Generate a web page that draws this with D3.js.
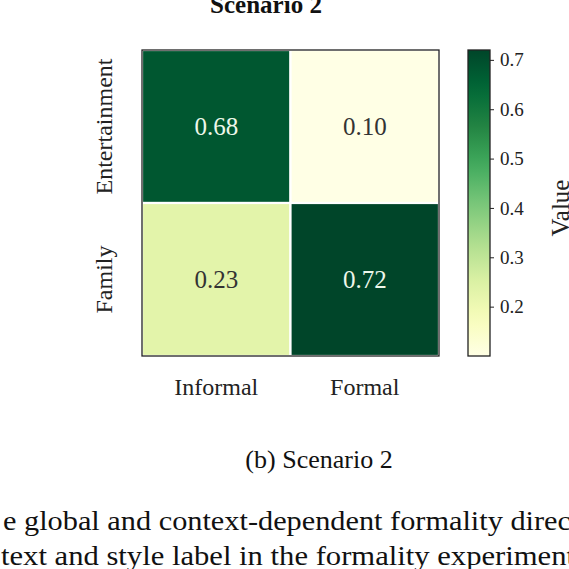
<!DOCTYPE html>
<html>
<head>
<meta charset="utf-8">
<script src="https://cdn.jsdelivr.net/npm/d3@7"></script>
<style>
  body { margin: 0; background: white; }
  svg { display: block; font-family: "Liberation Serif", "DejaVu Serif", serif; }
</style>
</head>
<body>
<svg id="chart" width="569" height="569"></svg>
<script>
// Scenario 2 heatmap (context x style)
const rowLabels = ["Entertainment", "Family"];
const colLabels = ["Informal", "Formal"];
const cellValues = [
    [0.68, 0.10],
    [0.23, 0.72]
];
const cbarTicks = [0.2, 0.3, 0.4, 0.5, 0.6, 0.7];

var dimensions = {
    width: 569,
    height: 569,
    heat: { left: 142, right: 439, top: 50, bottom: 356 },
    cbar: { left: 468, right: 490 }
}

var svg = d3.select("#chart");

var cells = [];
cellValues.forEach((row, i) => {
    row.forEach((v, j) => {
        cells.push({ row: rowLabels[i], col: colLabels[j], value: v });
    });
});

var vmin = d3.min(cells, d => d.value);
var vmax = d3.max(cells, d => d.value);

// matplotlib-like YlGn (linear through the 9 steps)
var ylgn = d3.piecewise(d3.interpolateRgb, d3.schemeYlGn[9]);
var color = d3.scaleSequential(ylgn).domain([vmin, vmax]);

var xScale = d3.scaleBand()
    .domain(colLabels)
    .range([dimensions.heat.left, dimensions.heat.right]);

var yScale = d3.scaleBand()
    .domain(rowLabels)
    .range([dimensions.heat.top, dimensions.heat.bottom]);

// title (cut off at the top of the crop)
svg.append("text")
    .attr("x", 266)
    .attr("y", 13)
    .attr("text-anchor", "middle")
    .style("font-size", "25px")
    .style("font-weight", "bold")
    .style("fill", "#111")
    .text("Scenario 2");

// cells
svg.selectAll(".cell")
    .data(cells)
    .enter()
    .append("rect")
    .attr("class", "cell")
    .attr("x", d => xScale(d.col))
    .attr("y", d => yScale(d.row))
    .attr("width", xScale.bandwidth())
    .attr("height", yScale.bandwidth())
    .attr("fill", d => color(d.value))
    .attr("stroke", "white")
    .attr("stroke-width", 2.2);

// frame
svg.append("rect")
    .attr("x", dimensions.heat.left)
    .attr("y", dimensions.heat.top)
    .attr("width", dimensions.heat.right - dimensions.heat.left)
    .attr("height", dimensions.heat.bottom - dimensions.heat.top)
    .attr("fill", "none")
    .attr("stroke", "#222")
    .attr("stroke-width", 1.3);

// annotations
svg.selectAll(".annot")
    .data(cells)
    .enter()
    .append("text")
    .attr("class", "annot")
    .attr("x", d => xScale(d.col) + xScale.bandwidth() / 2)
    .attr("y", d => yScale(d.row) + yScale.bandwidth() / 2)
    .attr("dy", "0.35em")
    .attr("text-anchor", "middle")
    .style("font-size", "25px")
    .style("fill", d => (d.value - vmin) / (vmax - vmin) > 0.5 ? "#eef7ea" : "#333")
    .text(d => d.value.toFixed(2));

// x tick labels
svg.selectAll(".x-label")
    .data(colLabels)
    .enter()
    .append("text")
    .attr("class", "x-label")
    .attr("x", d => xScale(d) + xScale.bandwidth() / 2)
    .attr("y", 395)
    .attr("text-anchor", "middle")
    .style("font-size", "24px")
    .style("fill", "#222")
    .text(d => d);

// y tick labels (rotated)
svg.selectAll(".y-label")
    .data(rowLabels)
    .enter()
    .append("text")
    .attr("class", "y-label")
    .attr("transform", d => `translate(112,${yScale(d) + yScale.bandwidth() / 2}) rotate(-90)`)
    .attr("text-anchor", "middle")
    .style("font-size", "24px")
    .style("fill", "#222")
    .text(d => d);

// colorbar
var cScale = d3.scaleLinear()
    .domain([vmin, vmax])
    .range([dimensions.heat.bottom, dimensions.heat.top]);

var grad = svg.append("defs").append("linearGradient")
    .attr("id", "cbar-grad")
    .attr("x1", 0).attr("y1", 1)
    .attr("x2", 0).attr("y2", 0);

grad.selectAll("stop")
    .data(d3.range(0, 1.0001, 0.05))
    .enter()
    .append("stop")
    .attr("offset", d => d)
    .attr("stop-color", d => color(vmin + d * (vmax - vmin)));

svg.append("rect")
    .attr("x", dimensions.cbar.left)
    .attr("y", dimensions.heat.top)
    .attr("width", dimensions.cbar.right - dimensions.cbar.left)
    .attr("height", dimensions.heat.bottom - dimensions.heat.top)
    .attr("fill", "url(#cbar-grad)")
    .attr("stroke", "#222")
    .attr("stroke-width", 1.3);

var cAxis = svg.append("g")
    .attr("transform", `translate(${dimensions.cbar.right},0)`)
    .call(d3.axisRight(cScale).tickValues(cbarTicks).tickSize(4).tickPadding(6).tickFormat(d3.format(".1f")));

cAxis.select(".domain").remove();
cAxis.selectAll("line").attr("stroke", "#222");
cAxis.selectAll("text")
    .style("font-size", "19px")
    .style("font-family", "Liberation Serif, serif")
    .style("fill", "#222");

svg.append("text")
    .attr("transform", `translate(569,208) rotate(-90)`)
    .attr("text-anchor", "middle")
    .style("font-size", "25px")
    .style("fill", "#222")
    .text("Value");

// sub-caption and page text
svg.append("text")
    .attr("x", 319)
    .attr("y", 468)
    .attr("text-anchor", "middle")
    .style("font-size", "26px")
    .style("fill", "#111")
    .text("(b) Scenario 2");

svg.append("text")
    .attr("x", 3)
    .attr("y", 530)
    .attr("textLength", 568)
    .attr("lengthAdjust", "spacingAndGlyphs")
    .style("font-size", "28px")
    .style("fill", "#111")
    .text("e global and context-dependent formality direc");

svg.append("text")
    .attr("x", 1)
    .attr("y", 565)
    .attr("textLength", 574)
    .attr("lengthAdjust", "spacingAndGlyphs")
    .style("font-size", "28px")
    .style("fill", "#111")
    .text("text and style label in the formality experiment");
</script>
</body>
</html>
